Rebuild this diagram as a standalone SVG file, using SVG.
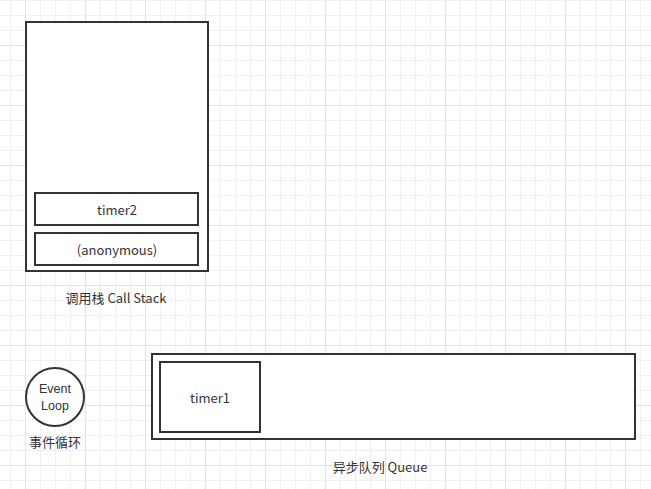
<svg xmlns="http://www.w3.org/2000/svg" width="651" height="489" viewBox="0 0 651 489">
<defs>
<pattern id="grid" patternUnits="userSpaceOnUse" x="25" y="45" width="60" height="60">
<path d="M15.5 0V60M30.5 0V60M45.5 0V60M0 15.5H60M0 30.5H60M0 45.5H60" stroke="#f0f0f0" stroke-width="1" fill="none"/>
<path d="M0.5 0V60M0 0.5H60" stroke="#e2e2e2" stroke-width="1" fill="none"/>
</pattern>
</defs>
<style>
.box{fill:#fff;stroke:#333;stroke-width:2}
.t{font-family:"Noto Sans CJK SC","Noto Sans",sans-serif;font-size:13px;fill:#333;text-anchor:middle;dominant-baseline:central}
.s{font-family:"Liberation Sans",Arial,sans-serif;font-size:12.5px}
</style>
<rect width="651" height="489" fill="#fff"/>
<rect width="651" height="489" fill="url(#grid)"/>
<g id="callstack">
<rect class="box" x="26" y="22" width="182" height="249"/>
<text class="t" x="116" y="297">调用栈 Call Stack</text>
</g>
<g id="timer2">
<rect class="box" x="35" y="193" width="163" height="32"/>
<text class="t" x="117" y="209">timer2</text>
</g>
<g id="anonymous">
<rect class="box" x="35" y="233" width="163" height="32"/>
<text class="t" x="117" y="249">(anonymous)</text>
</g>
<g id="eventloop">
<circle class="box" cx="55" cy="397" r="29"/>
<text class="t s" x="55" y="388.5">Event</text>
<text class="t s" x="55" y="405.5">Loop</text>
<text class="t" x="55" y="441">事件循环</text>
</g>
<g id="queue">
<rect class="box" x="152" y="354" width="483" height="85"/>
<text class="t" x="380" y="466">异步队列 Queue</text>
</g>
<g id="timer1">
<rect class="box" x="160" y="362" width="100" height="70"/>
<text class="t" x="210" y="397">timer1</text>
</g>
<g id="connectors"/>
</svg>
